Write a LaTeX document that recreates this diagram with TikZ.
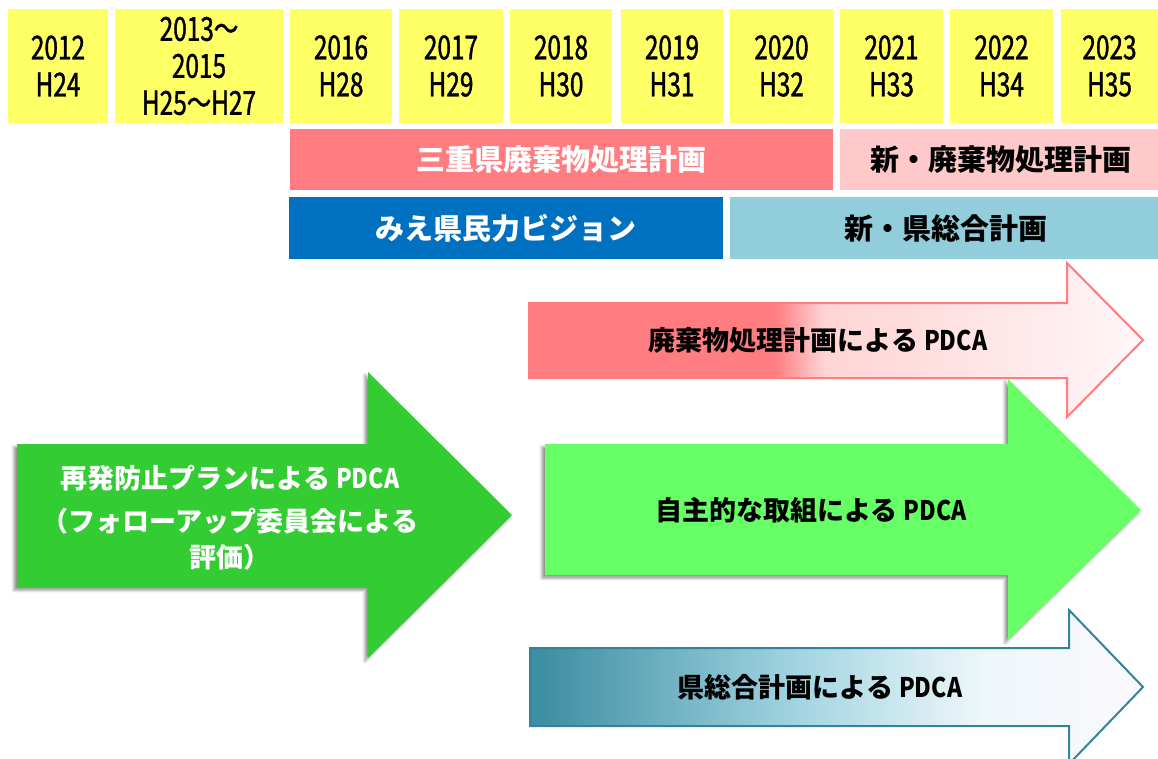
\documentclass[tikz,border=0pt]{standalone}
\usepackage{fontspec}
\newfontfamily\jp{Noto Sans CJK JP}
\newfontfamily\jpn[FakeStretch=0.85]{Noto Sans CJK JP}
\newfontfamily\jpy[FakeStretch=0.74, FakeBold=1.2]{Noto Sans CJK JP}
\usetikzlibrary{shadows.blur}
\definecolor{yel}{HTML}{FFFF66}
\definecolor{pk}{HTML}{FF7C80}
\definecolor{lpk}{HTML}{FFC9C9}
\definecolor{blu}{HTML}{0070C0}
\definecolor{lbl}{HTML}{92CDDC}
\definecolor{gA}{HTML}{33CC33}
\definecolor{gB}{HTML}{66FF66}
\definecolor{tealA}{HTML}{31849B}
\definecolor{tealB}{HTML}{3F8FA2}
\definecolor{pkB}{HTML}{FFD4D4}
\definecolor{pkC}{HTML}{FFF6F9}
\definecolor{tlB}{HTML}{A3D5E2}
\definecolor{tlC}{HTML}{EEF7FA}
\definecolor{tlD}{HTML}{FBF8FC}
\pgfdeclarehorizontalshading{pinkfade}{100bp}{color(0bp)=(pk); color(45bp)=(pk); color(49bp)=(pkB); color(75bp)=(pkC); color(100bp)=(pkC)}
\pgfdeclarehorizontalshading{tealfade}{100bp}{color(0bp)=(tealA); color(26bp)=(tealB); color(47bp)=(tlB); color(62bp)=(tlC); color(75bp)=(tlD); color(100bp)=(tlD)}
\begin{document}
\begin{tikzpicture}[x=1pt,y=-1pt,
  yrtxt/.style={font=\jpy\fontsize{33}{37}\selectfont, align=center, text=black, inner sep=0pt},
  bartxt/.style={font=\jp\bfseries\fontsize{29}{32}\selectfont, inner sep=0pt},
  arrtxt/.style={font=\jp\bfseries\fontsize{27}{32}\selectfont, inner sep=0pt, text=black},
  lefttxt/.style={font=\jp\bfseries\fontsize{27}{36}\selectfont, inner sep=0pt, text=white, align=center},
  gshadow/.style={blur shadow={shadow xshift=-3pt, shadow yshift=-3pt, shadow blur radius=3pt, shadow opacity=45}},
  outl/.style={line width=2pt, line join=miter}]
\useasboundingbox (0,0) rectangle (1158,758);
\clip (0,0) rectangle (1158,758);
% year boxes
\foreach \a/\b/\t [count=\i] in {8/108/{2012\\H24}, 115/283/{2013～\\2015\\H25～H27}, 290/392/{2016\\H28}, 399/503/{2017\\H29}, 510/612/{2018\\H30}, 621/723/{2019\\H31}, 730/833/{2020\\H32}, 840/943/{2021\\H33}, 950/1053/{2022\\H34}, 1061/1158/{2023\\H35}}{
  \fill[yel] (\a,9) rectangle (\b,123);
  \node[yrtxt] (y\i) at ({(\a+\b)/2},66) {\t};
}
% plan bars
\fill[pk] (290,129) rectangle (833,190);
\node[bartxt, text=white] (b1) at (561.5,160) {三重県廃棄物処理計画};
\fill[lpk] (840,129) rectangle (1158,190);
\node[bartxt, text=black] (b2) at (1001,160) {新・廃棄物処理計画};
\fill[blu] (289,197) rectangle (723,259);
\node[bartxt, text=white] (b3) at (506,228) {みえ県民力ビジョン};
\fill[lbl] (730,197) rectangle (1158,259);
\node[bartxt, text=black] (b4) at (946,228) {新・県総合計画};
% left green arrow
\fill[gA, gshadow] (17,444) -- (368,444) -- (368,372) -- (512,515) -- (368,658) -- (368,587) -- (17,587) -- cycle;
\node[lefttxt] (t4) at (230,518) {再発防止プランによる {\jpn PDCA}\\[7pt]（フォローアップ委員会による\\評価）};
% middle green arrow
\fill[gB, gshadow] (545,444) -- (1008,444) -- (1008,379) -- (1141,510) -- (1008,640) -- (1008,575) -- (545,575) -- cycle;
\node[arrtxt] (t2) at (811,510) {自主的な取組による {\jpn PDCA}};
% pink arrow
\shadedraw[shading=pinkfade, draw=pk, outl] (529,303) -- (1067,303) -- (1067,263) -- (1143,340) -- (1067,417) -- (1067,378) -- (529,378) -- cycle;
\node[arrtxt] (t1) at (818,340) {廃棄物処理計画による {\jpn PDCA}};
% teal arrow
\shadedraw[shading=tealfade, draw=tealA, outl] (530,648) -- (1069,648) -- (1069,610) -- (1143,687) -- (1069,764) -- (1069,726) -- (530,726) -- cycle;
\node[arrtxt] (t3) at (820,687) {県総合計画による {\jpn PDCA}};
\end{tikzpicture}
\end{document}
